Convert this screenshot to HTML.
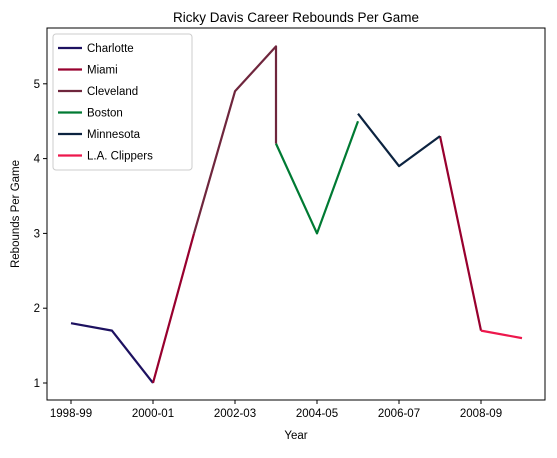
<!DOCTYPE html>
<html><head><meta charset="utf-8"><style>
body{margin:0;background:#fff;font-family:"Liberation Sans","DejaVu Sans",sans-serif}
svg text{font-family:"Liberation Sans","DejaVu Sans",sans-serif}
</style></head><body>
<svg id="chart" width="557" height="453"></svg>
<script>
const seasons=["1998-99","1999-00","2000-01","2001-02","2002-03","2003-04","2004-05","2005-06","2006-07","2007-08","2008-09","2009-10"];
const tickSeasons=["1998-99","2000-01","2002-03","2004-05","2006-07","2008-09"];
const yTicks=[1,2,3,4,5];
const teams=["Charlotte","Miami","Cleveland","Boston","Minnesota","L.A. Clippers"];
const colors=["#1d1160","#98002e","#6f263d","#007a33","#0c2340","#ed174c"];
const charlotteX=["1998-99","1999-00","2000-01"],charlotteY=[1.8,1.7,1.0];
const miamiX=["2000-01","2001-02",null,"2007-08","2008-09"],miamiY=[1.0,3.0,null,4.3,1.7];
const clevelandX=["2001-02","2002-03","2003-04","2003-04"],clevelandY=[3.0,4.9,5.5,4.2];
const bostonX=["2003-04","2004-05","2005-06"],bostonY=[4.2,3.0,4.5];
const minnesotaX=["2005-06","2006-07","2007-08"],minnesotaY=[4.6,3.9,4.3];
const clippersX=["2008-09","2009-10"],clippersY=[1.7,1.6];
const seriesX=[charlotteX,miamiX,clevelandX,bostonX,minnesotaX,clippersX];
const seriesY=[charlotteY,miamiY,clevelandY,bostonY,minnesotaY,clippersY];

const L=47,R=545,T=28,B=400;
const xs=s=>71+seasons.indexOf(s)*41;
const ys=v=>383-(v-1)*74.8;
const svg=document.getElementById('chart');
const NS='http://www.w3.org/2000/svg';
function mk(tag,a){const e=document.createElementNS(NS,tag);for(const k in a)e.setAttribute(k,a[k]);svg.appendChild(e);return e;}

const title=mk('text',{x:(L+R)/2,y:22,'text-anchor':'middle','font-size':13.5,fill:'#000'});
title.textContent='Ricky Davis Career Rebounds Per Game';



seriesX.forEach((xa,i)=>{
  let d='',pen=false;
  xa.forEach((x,j)=>{
    if(x===null||seriesY[i][j]===null){pen=false;return;}
    d+=(pen?'L':'M')+xs(x)+' '+ys(seriesY[i][j])+' ';pen=true;
  });
  const p=mk('path',{d:d,fill:'none',stroke:colors[i],'stroke-width':2.2,'stroke-linejoin':'round'});
  
  
});

const frame=mk('rect',{x:L,y:T,width:R-L,height:B-T,fill:'none',stroke:'#000','stroke-width':1});



tickSeasons.forEach(s=>{
  const x=xs(s);
  mk('line',{x1:x,x2:x,y1:B,y2:B+4,stroke:'#000'});
  const t=mk('text',{x:x,y:B+17,'text-anchor':'middle','font-size':11.5});
  t.textContent=s;
  
  
});
yTicks.forEach(v=>{
  const y=ys(v);
  mk('line',{x1:L-4,x2:L,y1:y,y2:y,stroke:'#000'});
  const t=mk('text',{x:L-7,y:y+4,'text-anchor':'end','font-size':11.5});
  t.textContent=v;
  
  
});
const xt=mk('text',{x:(L+R)/2,y:439,'text-anchor':'middle','font-size':11.5});
xt.textContent='Year';


const yt=mk('text',{x:0,y:0,'text-anchor':'middle','font-size':11.5,transform:'translate(19,'+((T+B)/2)+') rotate(-90)'});
yt.textContent='Rebounds Per Game';



const lg=mk('rect',{x:53,y:34,width:139,height:136,rx:3,fill:'#fff','fill-opacity':0.8,stroke:'#ccc'});


teams.forEach((n,i)=>{
  const y=48+i*21.5;
  mk('line',{x1:58,x2:82,y1:y,y2:y,stroke:colors[i],'stroke-width':2.2});
  const t=mk('text',{x:87,y:y+4,'font-size':11.5});
  t.textContent=n;
  
  
});
</script>
</body></html>
